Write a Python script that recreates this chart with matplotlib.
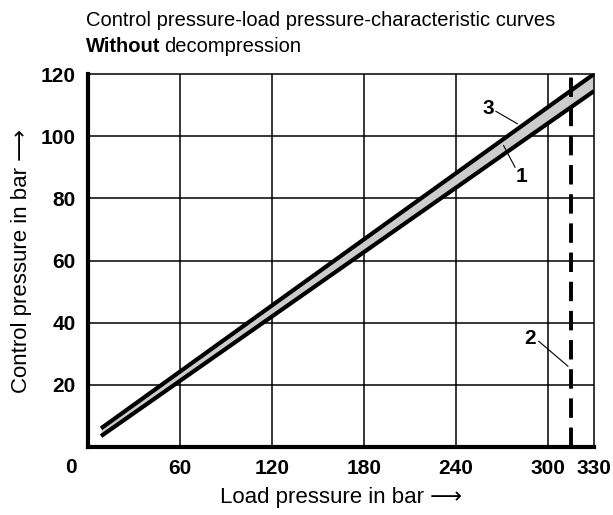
import matplotlib
matplotlib.use("Agg")
import matplotlib.pyplot as plt

plt.rcParams['font.family'] = ['Liberation Sans', 'DejaVu Sans']

# data
x_line = [8.5, 330]
upper_line = [6, 120]   # curve 3
lower_line = [3.5, 114.5]  # curve 1
dashed_x = 315  # curve 2
x_ticks = [60, 120, 180, 240, 300, 330]
y_ticks = [20, 40, 60, 80, 100, 120]
x_grid = [60, 120, 180, 240, 300]

fig = plt.figure(figsize=(6.13, 5.15), dpi=100)
ax = fig.add_axes([88/613, 1-447/515, 506/613, 373/515])
ax.set_xlim(0, 330)
ax.set_ylim(0, 120)

for gx in x_grid:
    ax.axvline(gx, color='black', lw=1.1, zorder=1)
for gy in y_ticks[:-1]:
    ax.axhline(gy, color='black', lw=1.1, zorder=1)

ax.fill_between(x_line, lower_line, upper_line, color='#cccccc', zorder=2, lw=0)
ax.plot(x_line, upper_line, color='black', lw=3, zorder=3, solid_capstyle='butt')
ax.plot(x_line, lower_line, color='black', lw=3, zorder=3, solid_capstyle='butt')
ax.axvline(dashed_x, color='black', lw=2.8, dashes=(5, 2.5), zorder=3)

for s in ['left', 'bottom']:
    ax.spines[s].set_linewidth(3)
for s in ['top', 'right']:
    ax.spines[s].set_linewidth(1.1)

tfs = 15
ax.set_xticks(x_ticks)
ax.set_xticklabels([str(v) for v in x_ticks], fontweight='bold', fontsize=tfs)
ax.set_yticks(y_ticks)
ax.set_yticklabels([str(v) for v in y_ticks], fontweight='bold', fontsize=tfs)
ax.tick_params(axis='y', length=0, pad=9)
ax.tick_params(axis='x', length=0, pad=9)
ax.text(-11, -6.5, '0', fontweight='bold', fontsize=tfs, ha='center', va='center', clip_on=False)

ax.set_xlabel('Load pressure in bar ⟶', fontsize=16, labelpad=6)
ax.set_ylabel('Control pressure in bar ⟶', fontsize=16, labelpad=6)

# annotations
ax.text(261, 109, '3', fontweight='bold', fontsize=tfs, ha='center', va='center')
ax.plot([266, 280], [108, 104], color='black', lw=0.8, zorder=4)
ax.text(283, 87, '1', fontweight='bold', fontsize=tfs, ha='center', va='center')
ax.plot([278.5, 271], [90, 97], color='black', lw=0.8, zorder=4)
ax.text(288, 35, '2', fontweight='bold', fontsize=tfs, ha='center', va='center')
ax.plot([294, 313], [34, 26], color='black', lw=0.8, zorder=4)

fig.text(86/613, 1-20/515, 'Control pressure-load pressure-characteristic curves',
         fontsize=14.5, ha='left', va='center')
t1 = fig.text(86/613, 1-47/515, 'Without', fontsize=14.5, fontweight='bold', ha='left', va='center')
fig.canvas.draw()
bb = t1.get_window_extent()
fig.text((bb.x1 + 4)/613, 1-47/515, 'decompression', fontsize=14.5, ha='left', va='center')

fig.savefig('out.png', dpi=100)
